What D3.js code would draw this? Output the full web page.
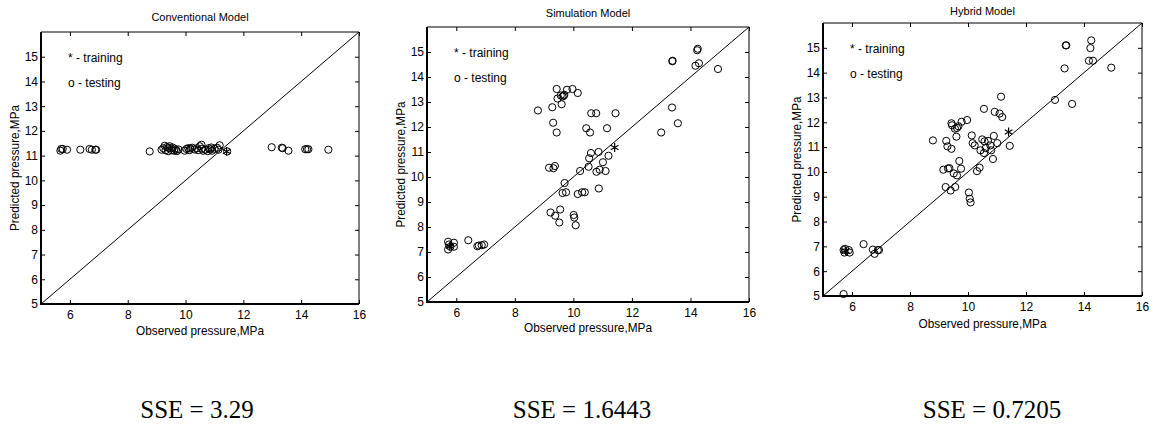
<!DOCTYPE html>
<html lang="en">
	<head>
		<meta charset="utf-8">
		<title>D3: observed vs predicted pressure</title>
		<script src="https://d3js.org/d3.v7.min.js"></script>
		<style type="text/css">
			body { margin: 0; background: #fff; }
			text { font-family: Arial, "Liberation Sans", sans-serif; fill: #000; }
		</style>
	</head>
	<body>
		<script type="text/javascript">
			// panel titles and the SSE under each
			var titles = ["Conventional Model", "Simulation Model", "Hybrid Model"];
			var sseLabels = ["SSE = 3.29", "SSE = 1.6443", "SSE = 0.7205"];
			var xTicks = [6, 8, 10, 12, 14, 16];
			var yTicks = [5, 6, 7, 8, 9, 10, 11, 12, 13, 14, 15];

			// testing points, [observed, predicted]
			var conventionalTest = [
				[5.67, 11.20], [5.70, 11.27], [5.75, 11.27], [5.90, 11.24], [6.36, 11.24],
				[6.68, 11.27], [6.76, 11.24], [6.88, 11.24], [6.91, 11.24], [8.76, 11.17],
				[9.17, 11.24], [9.23, 11.30], [9.28, 11.40], [9.31, 11.22], [9.36, 11.35],
				[9.40, 11.18], [9.43, 11.30], [9.45, 11.38], [9.51, 11.22], [9.55, 11.33],
				[9.60, 11.20], [9.62, 11.28], [9.67, 11.24], [9.70, 11.18], [9.76, 11.25],
				[9.97, 11.20], [10.03, 11.27], [10.09, 11.30], [10.13, 11.22], [10.16, 11.29],
				[10.23, 11.32], [10.31, 11.25], [10.40, 11.30], [10.43, 11.22], [10.49, 11.38],
				[10.55, 11.44], [10.57, 11.28], [10.61, 11.20], [10.69, 11.24], [10.77, 11.18],
				[10.80, 11.30], [10.86, 11.25], [10.89, 11.33], [10.92, 11.20], [11.01, 11.28],
				[11.09, 11.32], [11.14, 11.24], [11.18, 11.42], [11.44, 11.17],
				[12.98, 11.34], [13.33, 11.32], [13.36, 11.30], [13.56, 11.20],
				[14.14, 11.26], [14.20, 11.26], [14.25, 11.26], [14.94, 11.24]
			];
			var simulationTest = [
				[5.72, 7.41], [5.75, 7.30], [5.72, 7.10], [5.80, 7.21], [5.92, 7.37], [5.92, 7.21],
				[6.41, 7.47], [6.72, 7.23], [6.77, 7.26], [6.87, 7.27], [6.95, 7.30],
				[8.79, 12.66], [9.28, 12.79], [9.31, 12.17], [9.43, 11.78],
				[9.17, 10.37], [9.32, 10.35], [9.37, 10.44],
				[9.43, 13.52], [9.46, 13.14], [9.63, 13.22], [9.67, 13.25], [9.69, 13.29], [9.57, 13.26],
				[9.60, 12.91], [9.78, 13.49], [9.97, 13.52], [10.15, 13.36],
				[9.70, 9.76], [9.63, 9.36], [9.75, 9.39],
				[9.22, 8.58], [9.38, 8.45], [9.55, 8.70], [9.52, 8.18],
				[10.01, 8.48], [10.03, 8.38], [10.08, 8.07],
				[10.15, 9.32], [10.30, 9.39], [10.39, 9.39],
				[10.23, 10.24], [10.44, 11.95], [10.57, 11.78],
				[10.60, 10.96], [10.54, 10.75], [10.52, 10.41],
				[10.61, 12.55], [10.78, 12.55],
				[10.86, 11.00], [10.79, 10.21], [10.90, 10.29],
				[10.87, 9.54], [11.01, 10.59], [11.10, 10.24], [11.20, 10.85],
				[11.15, 11.95], [11.44, 12.55],
				[13.00, 11.78], [13.37, 12.78], [13.38, 14.63], [13.39, 14.65],
				[13.57, 12.15], [14.17, 14.45], [14.23, 15.07], [14.25, 15.13], [14.29, 14.55], [14.94, 14.32]
			];
			var hybridTest = [
				[5.71, 5.08], [5.71, 6.85], [5.74, 6.75], [5.76, 6.90], [5.89, 6.85], [5.92, 6.75],
				[6.40, 7.09], [6.72, 6.87], [6.78, 6.70], [6.89, 6.85], [6.93, 6.85],
				[8.79, 11.27], [9.25, 11.25], [9.29, 11.03], [9.43, 10.93],
				[9.15, 10.09], [9.31, 10.14], [9.36, 10.15],
				[9.23, 9.39], [9.40, 9.25], [9.56, 9.39], [9.51, 9.94], [9.62, 9.86],
				[9.70, 10.44], [9.76, 10.13],
				[9.43, 11.96], [9.45, 11.88], [9.55, 11.74], [9.62, 11.77], [9.67, 11.84], [9.60, 11.42],
				[9.78, 12.02], [9.97, 12.09],
				[10.03, 9.17], [10.06, 8.92], [10.09, 8.77],
				[10.13, 11.47], [10.16, 11.16], [10.23, 11.07],
				[10.31, 10.03], [10.40, 10.17],
				[10.43, 10.87], [10.49, 11.31], [10.55, 12.54],
				[10.55, 10.76], [10.61, 10.96], [10.57, 11.23], [10.69, 11.25],
				[10.77, 11.07], [10.80, 10.87], [10.86, 10.52], [10.89, 11.45],
				[10.92, 12.42], [11.09, 12.35], [11.18, 12.21], [11.01, 11.16], [11.14, 13.03],
				[11.44, 11.05],
				[13.00, 12.90], [13.33, 14.17], [13.37, 15.10], [13.39, 15.10],
				[13.59, 12.74], [14.17, 14.48], [14.22, 14.99], [14.25, 15.30], [14.31, 14.48],
				[14.94, 14.20]
			];
			// training point(s), drawn with "*"
			var conventionalTrain = [[11.42, 11.17]];
			var simulationTrain = [[5.78, 7.23], [11.41, 11.18]];
			var hybridTrain = [[5.78, 6.82], [11.40, 11.61]];

			var panels = [
				{left: 41, right: 359, top: 32, bottom: 304, titleY: 21, xLabelY: 335, sseX: 197,
					test: conventionalTest, train: conventionalTrain},
				{left: 427, right: 749, top: 27, bottom: 302, titleY: 17, xLabelY: 332, sseX: 582,
					test: simulationTest, train: simulationTrain},
				{left: 823, right: 1142, top: 23, bottom: 296, titleY: 15, xLabelY: 328, sseX: 992,
					test: hybridTest, train: hybridTrain}
			];

			var svg = d3.select("body").append("svg")
				.attr("width", 1153)
				.attr("height", 429);

			panels.forEach(function(p, i){

				var x = d3.scaleLinear().domain([5, 16]).range([p.left, p.right]);
				var y = d3.scaleLinear().domain([5, 16]).range([p.bottom, p.top]);

				var g = svg.append("g");

				// ticks inside on all four sides (matlab style)
				g.append("g")
					.attr("transform", "translate(0," + p.bottom + ")")
					.call(d3.axisBottom(x).tickValues(xTicks).tickSize(-4).tickPadding(6).tickFormat(d3.format("d")))
					.call(function(a){ a.select(".domain").remove(); })
					.selectAll("text").style("font-size", "12px");
				g.append("g")
					.attr("transform", "translate(0," + p.top + ")")
					.call(d3.axisTop(x).tickValues(xTicks).tickSize(-4).tickFormat(""))
					.call(function(a){ a.select(".domain").remove(); });
				g.append("g")
					.attr("transform", "translate(" + p.left + ",0)")
					.call(d3.axisLeft(y).tickValues(yTicks).tickSize(-4).tickPadding(3).tickFormat(d3.format("d")))
					.call(function(a){ a.select(".domain").remove(); })
					.selectAll("text").style("font-size", "12px");
				g.append("g")
					.attr("transform", "translate(" + p.right + ",0)")
					.call(d3.axisRight(y).tickValues(yTicks).tickSize(-4).tickFormat(""))
					.call(function(a){ a.select(".domain").remove(); });

				// frame: thin top/right, thick left/bottom
				g.append("path")
					.attr("d", "M" + p.left + "," + p.top + "H" + p.right + "V" + p.bottom)
					.attr("fill", "none").attr("stroke", "#000").attr("stroke-width", 1);
				g.append("path")
					.attr("d", "M" + p.left + "," + p.top + "V" + p.bottom + "H" + p.right)
					.attr("fill", "none").attr("stroke", "#000").attr("stroke-width", 2);

				// y = x line
				g.append("line")
					.attr("x1", x(5)).attr("y1", y(5))
					.attr("x2", x(16)).attr("y2", y(16))
					.attr("stroke", "#000").attr("stroke-width", 1);

				g.selectAll("circle")
					.data(p.test)
					.enter()
					.append("circle")
					.attr("cx", function(d){ return x(d[0]); })
					.attr("cy", function(d){ return y(d[1]); })
					.attr("r", 3.6)
					.attr("fill", "none")
					.attr("stroke", "#000")
					.attr("stroke-width", 1);

				g.selectAll("path.star")
					.data(p.train)
					.enter()
					.append("path")
					.attr("class", "star")
					.attr("transform", function(d){ return "translate(" + x(d[0]) + "," + y(d[1]) + ")"; })
					.attr("d", d3.symbol(d3.symbolAsterisk, 55))
					.attr("fill", "none")
					.attr("stroke", "#000")
					.attr("stroke-width", 1.2);

				// legend text
				g.append("text")
					.attr("x", p.left + 27)
					.attr("y", p.top + 30)
					.style("font-size", "12px")
					.text("* - training");
				g.append("text")
					.attr("x", p.left + 27)
					.attr("y", p.top + 55)
					.style("font-size", "12px")
					.text("o - testing");

				// title
				g.append("text")
					.attr("x", (p.left + p.right) / 2)
					.attr("y", p.titleY)
					.attr("text-anchor", "middle")
					.style("font-size", "11px")
					.text(titles[i]);

				// axis labels
				g.append("text")
					.attr("x", (p.left + p.right) / 2)
					.attr("y", p.xLabelY)
					.attr("text-anchor", "middle")
					.attr("textLength", 128)
					.attr("lengthAdjust", "spacingAndGlyphs")
					.style("font-size", "13px")
					.text("Observed pressure,MPa");
				g.append("text")
					.attr("transform", "translate(" + (p.left - 22) + "," + ((p.top + p.bottom) / 2) + ") rotate(-90)")
					.attr("text-anchor", "middle")
					.attr("textLength", 126)
					.attr("lengthAdjust", "spacingAndGlyphs")
					.style("font-size", "13px")
					.text("Predicted pressure,MPa");

				// SSE below
				svg.append("text")
					.attr("x", p.sseX)
					.attr("y", 418)
					.attr("text-anchor", "middle")
					.style("font-family", "'Liberation Serif', 'Times New Roman', serif")
					.style("font-size", "25px")
					.text(sseLabels[i]);
			});
		</script>
	</body>
</html>
